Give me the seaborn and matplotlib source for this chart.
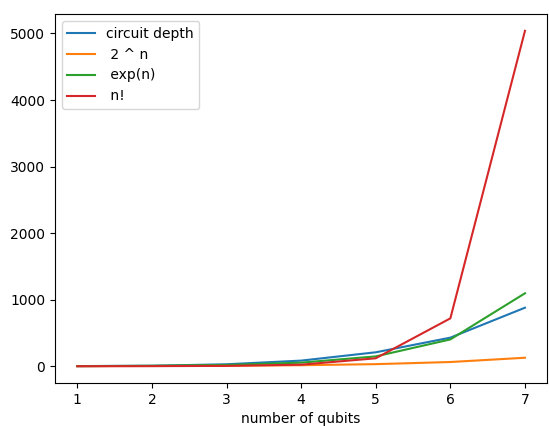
import matplotlib
matplotlib.use("Agg")
import matplotlib.pyplot as plt
import seaborn as sns
import pandas as pd

qubits = [1, 2, 3, 4, 5, 6, 7]
circuit_depth = [2, 8, 30, 85, 210, 430, 880]
two_pow_n = [2, 4, 8, 16, 32, 64, 128]
exp_n = [2.7, 7.4, 20.1, 54.6, 148.4, 403.4, 1096.6]
factorial_n = [1, 2, 6, 24, 120, 720, 5040]
labels = ["circuit depth", " 2 ^ n", " exp(n)", " n!"]

series = [circuit_depth, two_pow_n, exp_n, factorial_n]
rows = []
for lab, vals in zip(labels, series):
    for q, v in zip(qubits, vals):
        rows.append({"qubits": q, "value": v, "series": lab})
df = pd.DataFrame(rows)

fig = plt.figure(figsize=(5.49, 4.26), dpi=100)
ax = fig.add_axes([0.10, 0.101, 0.897, 0.866])
sns.lineplot(data=df, x="qubits", y="value", hue="series",
             palette=["#1f77b4", "#ff7f0e", "#2ca02c", "#d62728"],
             linewidth=1.5, ax=ax)
ax.set_xlabel("number of qubits")
ax.set_ylabel("")
ax.set_xticks(qubits)
ax.set_yticks([0, 1000, 2000, 3000, 4000, 5000])
ax.legend(loc="upper left", title=None)
fig.savefig("out.png", dpi=100)
